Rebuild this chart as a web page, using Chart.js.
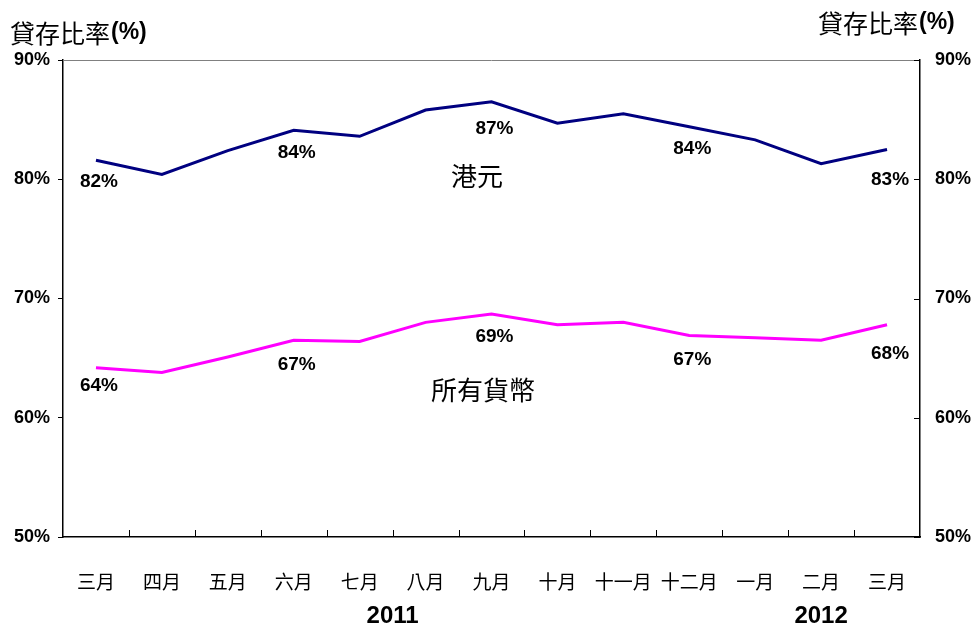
<!DOCTYPE html>
<html>
<head>
<meta charset="utf-8">
<script src="https://cdn.jsdelivr.net/npm/chart.js@4"></script>
<style>
  html, body { margin: 0; padding: 0; background: #fff; }
  #wrap { width: 976px; height: 628px; }
</style>
</head>
<body>
<div id="wrap"><canvas id="ratioChart" width="976" height="628"></canvas></div>
<script>
// loan-to-deposit ratio, Mar 2011 - Mar 2012
const months = ['三月', '四月', '五月', '六月', '七月', '八月', '九月', '十月', '十一月', '十二月', '一月', '二月', '三月'];
const hkdRatio = [81.6, 80.4, 82.4, 84.1, 83.6, 85.8, 86.5, 84.7, 85.5, 84.4, 83.3, 81.3, 82.5];
const allRatio = [64.2, 63.8, 65.1, 66.5, 66.4, 68.0, 68.7, 67.8, 68.0, 66.9, 66.7, 66.5, 67.8];
const labelIndex = [0, 3, 6, 9, 12];
const hkdLabels = ['82%', '84%', '87%', '84%', '83%'];
const allLabels = ['64%', '67%', '69%', '67%', '68%'];
const yMin = 50, yMax = 90, yStep = 10;
const years = ['2011', '2012'];
const seriesNames = ['港元', '所有貨幣'];
const axisTitle = '貸存比率';

const CJK = '"Noto Sans CJK TC", "Noto Sans CJK SC", sans-serif';
const LAT = '"Liberation Sans", Arial, sans-serif';

// vertical gap between a point and its value label
const hkdLabelGap = [22, 22, 27, 22, 30];
const allLabelGap = [18, 25, 23, 24, 29];

const extrasPlugin = {
    id: 'extras',
    afterDraw(chart) {
        const ctx = chart.ctx;
        const area = chart.chartArea;
        const xs = chart.scales.x;
        const ys = chart.scales.y;

        ctx.save();

        // grey top border
        ctx.strokeStyle = '#808080';
        ctx.lineWidth = 1;
        ctx.beginPath();
        ctx.moveTo(area.left, area.top + 0.5);
        ctx.lineTo(area.right, area.top + 0.5);
        ctx.stroke();

        // category separators pointing up from the x axis
        ctx.strokeStyle = '#000';
        ctx.beginPath();
        for (let i = 1; i < months.length; i++) {
            const x = Math.round((xs.getPixelForTick(i - 1) + xs.getPixelForTick(i)) / 2) + 0.5;
            ctx.moveTo(x, area.bottom);
            ctx.lineTo(x, area.bottom - 7);
        }
        // right axis ticks point inwards
        for (let v = yMin; v <= yMax; v += yStep) {
            const y = Math.round(ys.getPixelForValue(v)) + 0.5;
            ctx.moveTo(area.right, y);
            ctx.lineTo(area.right - 6, y);
        }
        ctx.stroke();

        // point value labels
        ctx.fillStyle = '#000';
        ctx.font = 'bold 19px ' + LAT;
        ctx.textAlign = 'center';
        ctx.textBaseline = 'middle';
        [[0, hkdLabels, hkdLabelGap], [1, allLabels, allLabelGap]].forEach(([di, texts, gaps]) => {
            const meta = chart.getDatasetMeta(di);
            labelIndex.forEach((idx, k) => {
                const pt = meta.data[idx];
                ctx.fillText(texts[k], pt.x + 3, pt.y + gaps[k]);
            });
        });

        // series names
        ctx.font = '26px ' + CJK;
        ctx.fillText(seriesNames[0], xs.getPixelForValue(5.78), ys.getPixelForValue(80.3));
        ctx.fillText(seriesNames[1], xs.getPixelForValue(5.87), ys.getPixelForValue(62.3));

        // years
        ctx.font = 'bold 24px ' + LAT;
        ctx.fillText(years[0], xs.getPixelForValue(4.5), 616);
        ctx.fillText(years[1], xs.getPixelForValue(11), 616);

        // axis titles
        const drawTitle = (x, y) => {
            ctx.textAlign = 'left';
            ctx.font = '25px ' + CJK;
            ctx.fillText(axisTitle, x, y);
            const w = ctx.measureText(axisTitle).width;
            ctx.font = 'bold 23px ' + LAT;
            ctx.fillText('(%)', x + w + 1, y);
        };
        drawTitle(10, 33);
        drawTitle(818, 23);

        ctx.restore();
    }
};

const tickFont = { family: LAT, size: 18, weight: 'bold' };

new Chart(document.getElementById('ratioChart').getContext('2d'), {
    type: 'line',
    data: {
        labels: months,
        datasets: [
            {
                label: seriesNames[0],
                data: hkdRatio,
                borderColor: '#000080',
                borderWidth: 3,
                pointRadius: 0,
                tension: 0,
                yAxisID: 'y'
            },
            {
                label: seriesNames[1],
                data: allRatio,
                borderColor: '#ff00ff',
                borderWidth: 3,
                pointRadius: 0,
                tension: 0,
                yAxisID: 'y'
            }
        ]
    },
    options: {
        responsive: false,
        animation: false,
        layout: { padding: { top: 60, left: 0, right: 0, bottom: 0 } },
        plugins: {
            legend: { display: false },
            tooltip: { enabled: false }
        },
        scales: {
            x: {
                offset: true,
                ticks: {
                    color: '#000',
                    font: { family: CJK, size: 19 },
                    padding: 25,
                    maxRotation: 0,
                    autoSkip: false
                },
                grid: { display: false },
                border: { display: true, color: '#000', width: 1.5 },
                afterFit(scale) { scale.height = 91; }
            },
            y: {
                position: 'left',
                min: yMin,
                max: yMax,
                ticks: { stepSize: yStep, color: '#000', font: tickFont, padding: 8, callback: v => v + '%' },
                grid: { drawOnChartArea: false, drawTicks: true, tickLength: 5, color: '#000' },
                border: { display: true, color: '#000', width: 1.5 },
                afterFit(scale) { scale.width = 63; }
            },
            y2: {
                position: 'right',
                min: yMin,
                max: yMax,
                ticks: { stepSize: yStep, color: '#000', font: tickFont, padding: 15, callback: v => v + '%' },
                grid: { drawOnChartArea: false, drawTicks: false },
                border: { display: true, color: '#000', width: 1.5 },
                afterFit(scale) { scale.width = 56; }
            }
        }
    },
    plugins: [extrasPlugin]
});
</script>
</body>
</html>
